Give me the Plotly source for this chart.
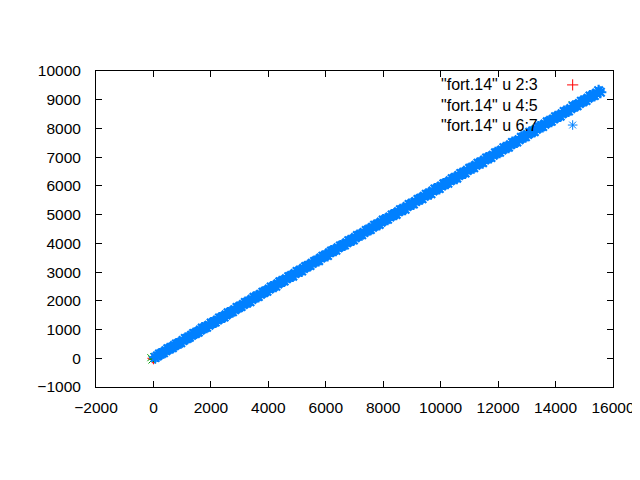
import plotly.graph_objects as go

# ---- data ----
series_names = ['"fort.14" u 2:3', '"fort.14" u 4:5', '"fort.14" u 6:7']

x_blue = [60, 210, 350, 500, 660, 800, 950, 1110, 1250, 1400, 1560, 1700, 1850, 2010, 2150,
          2300, 2460, 2600, 2750, 2910, 3050, 3200, 3360, 3500, 3650, 3810, 3950, 4100, 4260,
          4400, 4550, 4710, 4850, 5000, 5160, 5300, 5450, 5610, 5750, 5900, 6060, 6200, 6350,
          6510, 6650, 6800, 6960, 7100, 7250, 7410, 7550, 7700, 7860, 8000, 8150, 8310, 8450,
          8600, 8760, 8900, 9050, 9210, 9350, 9500, 9660, 9800, 9950, 10110, 10250, 10400,
          10560, 10700, 10850, 11010, 11150, 11300, 11460, 11600, 11750, 11910, 12050, 12200,
          12360, 12500, 12650, 12810, 12950, 13100, 13260, 13400, 13550, 13710, 13850, 14000,
          14160, 14300, 14450, 14610, 14750, 14900, 15060, 15200, 15350, 15500, 15560,
          135, 285, 430, 580, 730, 880, 1030, 1180, 1330, 1480, 1630, 1780, 1930, 2080, 2230,
          2380, 2530, 2680, 2830, 2980, 3130, 3280, 3430, 3580, 3730, 3880, 4030, 4180, 4330,
          4480, 4630, 4780, 4930, 5080, 5230, 5380, 5530, 5680, 5830, 5980, 6130, 6280, 6430,
          6580, 6730, 6880, 7030, 7180, 7330, 7480, 7630, 7780, 7930, 8080, 8230, 8380, 8530,
          8680, 8830, 8980, 9130, 9280, 9430, 9580, 9730, 9880, 10030, 10180, 10330, 10480,
          10630, 10780, 10930, 11080, 11230, 11380, 11530, 11680, 11830, 11980, 12130, 12280,
          12430, 12580, 12730, 12880, 13030, 13180, 13330, 13480, 13630, 13780, 13930, 14080,
          14230, 14380, 14530, 14680, 14830, 14980, 15130, 15280, 15430]
y_blue = [30, 150, 190, 330, 370, 500, 540, 690, 730, 860, 910, 1050, 1080, 1230, 1260,
          1400, 1440, 1580, 1620, 1770, 1800, 1940, 1970, 2120, 2150, 2300, 2330, 2480, 2510,
          2660, 2690, 2840, 2860, 3020, 3040, 3190, 3230, 3370, 3400, 3550, 3580, 3730, 3760,
          3910, 3940, 4090, 4120, 4270, 4300, 4450, 4480, 4630, 4660, 4810, 4840, 4990, 5010,
          5170, 5190, 5350, 5370, 5530, 5550, 5710, 5730, 5890, 5910, 6070, 6090, 6250,
          6270, 6430, 6450, 6610, 6630, 6790, 6810, 6970, 6990, 7150, 7170, 7330,
          7350, 7510, 7530, 7690, 7710, 7870, 7890, 8050, 8070, 8230, 8250, 8410,
          8430, 8590, 8610, 8770, 8790, 8950, 8970, 9130, 9150, 9310, 9260,
          80, 170, 260, 350, 440, 520, 620, 700, 800, 880, 980, 1060, 1150, 1240, 1330,
          1420, 1510, 1600, 1690, 1780, 1870, 1960, 2050, 2140, 2230, 2320, 2410, 2500, 2590,
          2680, 2770, 2860, 2950, 3040, 3130, 3220, 3310, 3400, 3490, 3580, 3670, 3760, 3850,
          3930, 4020, 4110, 4200, 4290, 4380, 4470, 4560, 4650, 4740, 4830, 4920, 5010, 5100,
          5190, 5280, 5370, 5460, 5550, 5640, 5730, 5820, 5910, 6000, 6090, 6180, 6270,
          6360, 6450, 6540, 6630, 6720, 6810, 6900, 6990, 7070, 7160, 7250, 7340,
          7430, 7520, 7610, 7700, 7790, 7880, 7970, 8060, 8150, 8240, 8330, 8420,
          8510, 8600, 8690, 8780, 8870, 8960, 9050, 9140, 9230]

x_red = [-40, 0, 40, 300, 700, 1500, 3000, 5000, 7000, 9000, 11000, 13000, 15000]
y_red = [0, -40, 50, 180, 420, 900, 1790, 2990, 4180, 5380, 6580, 7770, 8970]

x_green = [-90, -50, 10, 400, 900, 2000, 4000, 6000, 8000, 10000, 12000, 14000, 15400]
y_green = [20, -60, 60, 240, 540, 1200, 2390, 3590, 4780, 5980, 7170, 8370, 9210]

colors = ["#ff0000", "#00a000", "#0080ff"]
symbols = ["cross-thin-open", "x-thin-open", "asterisk-open"]
xs = [x_red, x_green, x_blue]
ys = [y_red, y_green, y_blue]
data_sizes = [7, 7, 10]
data_widths = [1, 1, 2.2]

X_RANGE = [-2000, 16000]
Y_RANGE = [-1000, 10000]

# key layout (paper fractions inside the plot area)
KEY_TEXT_X = 0.858
KEY_SAMPLE_X = 0.922
KEY_ROWS_Y = [0.956, 0.892, 0.829]

FONT = "Liberation Sans, Arial, sans-serif"

fig = go.Figure()
annotations = []
for i in range(3):
    kx = X_RANGE[0] + KEY_SAMPLE_X * (X_RANGE[1] - X_RANGE[0])
    ky = Y_RANGE[0] + KEY_ROWS_Y[i] * (Y_RANGE[1] - Y_RANGE[0])
    # key sample first, then the series (like gnuplot)
    fig.add_trace(go.Scatter(
        x=[kx], y=[ky], mode="markers", showlegend=False, hoverinfo="skip",
        marker=dict(symbol=symbols[i], size=8, color=colors[i],
                    line=dict(color=colors[i], width=1)),
    ))
    fig.add_trace(go.Scatter(
        x=xs[i], y=ys[i], mode="markers", name=series_names[i], showlegend=False,
        marker=dict(symbol=symbols[i], size=data_sizes[i], color=colors[i],
                    line=dict(color=colors[i], width=data_widths[i])),
    ))
    annotations.append(dict(
        x=KEY_TEXT_X, y=KEY_ROWS_Y[i], xref="paper", yref="paper",
        text=series_names[i], showarrow=False, xanchor="right", yanchor="middle",
        font=dict(family=FONT, size=16, color="black"),
    ))

axis_common = dict(
    showline=True, linecolor="black", linewidth=1, mirror="allticks",
    ticks="inside", ticklen=6, tickcolor="black", tickwidth=1,
    showgrid=False, zeroline=False, tickformat="d",
    tickfont=dict(family=FONT, size=15.5, color="black"),
)

fig.update_layout(
    width=640, height=480,
    margin=dict(l=88, r=35, t=63, b=101),
    plot_bgcolor="white", paper_bgcolor="white",
    xaxis=dict(range=X_RANGE, dtick=2000, tick0=0, ticklabelstandoff=6, **axis_common),
    yaxis=dict(range=Y_RANGE, dtick=1000, tick0=0, ticklabelstandoff=11, **axis_common),
    annotations=annotations,
    showlegend=False,
)

fig.write_html("out.html")
